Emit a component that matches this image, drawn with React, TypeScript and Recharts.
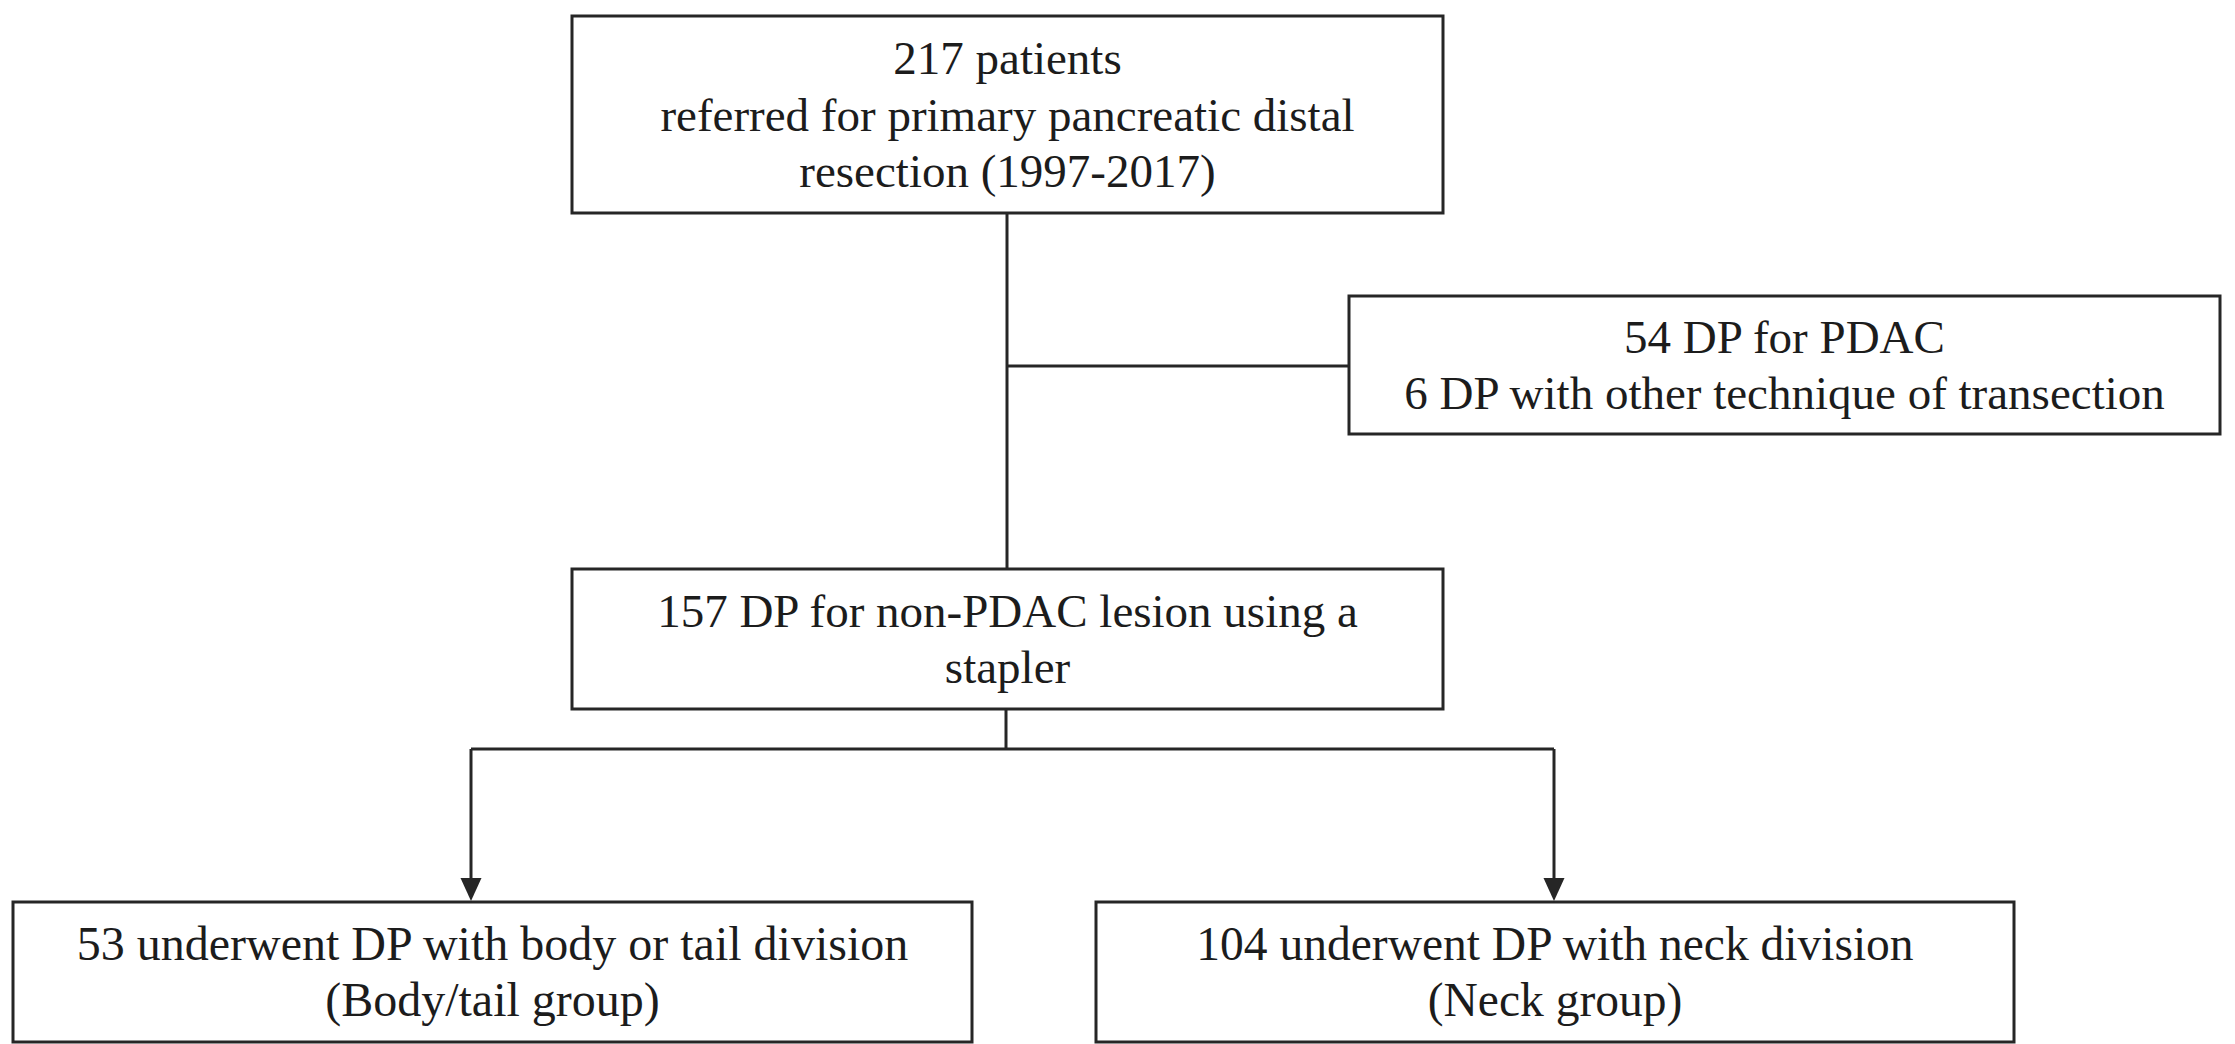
import React from 'react';
import { ComposedChart, XAxis, YAxis, ReferenceArea, ReferenceLine, Scatter } from 'recharts';

const W = 2235;
const H = 1044;

// Flowchart nodes (in diagram units = reference pixels)
const boxIds = ['referred', 'excluded', 'stapler', 'bodyTail', 'neck'];
const boxX1 = [572, 1349, 572, 13, 1096];
const boxX2 = [1443, 2220, 1443, 972, 2014];
const boxY1 = [16, 296, 569, 902, 902];
const boxY2 = [213, 434, 709, 1042, 1042];
const boxLines: string[][] = [
  ['217 patients', 'referred for primary pancreatic distal', 'resection (1997-2017)'],
  ['54 DP for PDAC', '6 DP with other technique of transection'],
  ['157 DP for non-PDAC lesion using a', 'stapler'],
  ['53 underwent DP with body or tail division', '(Body/tail group)'],
  ['104 underwent DP with neck division', '(Neck group)'],
];
const boxFont = [47, 47, 47, 48, 47.5];

// Connector segments
const segX1 = [1007, 1007, 1006, 471, 471, 1554];
const segY1 = [213, 366, 709, 749, 749, 749];
const segX2 = [1007, 1349, 1006, 1554, 471, 1554];
const segY2 = [569, 366, 749, 749, 882, 882];

// Arrow heads (tips)
const arrowX = [471, 1554];
const arrowY = [901, 901];
const arrows = arrowX.map((x, i) => ({ x, y: arrowY[i] }));

const INK = '#262626';
const FONT = '"Liberation Serif", "Times New Roman", serif';

const BoxLabel = (props: any) => {
  const { viewBox, lines, size } = props;
  if (!viewBox) return null;
  const { x, y, width, height } = viewBox;
  const cx = x + width / 2;
  const cy = y + height / 2;
  const lh = 56.5;
  const n = lines.length;
  return (
    <text
      x={cx}
      textAnchor="middle"
      fontFamily={FONT}
      fontSize={size}
      fill="#1c1c1c"
    >
      {lines.map((t: string, i: number) => (
        <tspan key={i} x={cx} y={cy + (i - (n - 1) / 2) * lh + 16}>
          {t}
        </tspan>
      ))}
    </text>
  );
};

const ArrowHead = (props: any) => {
  const { cx, cy } = props;
  if (cx == null || cy == null) return null;
  const hw = 10.5;
  const h = 23;
  return <polygon points={`${cx},${cy} ${cx - hw},${cy - h} ${cx + hw},${cy - h}`} fill={INK} />;
};

export default function App() {
  return (
    <div style={{ position: 'absolute', left: 0, top: 0, width: W, height: H, background: '#fff' }}>
      <ComposedChart width={W} height={H} margin={{ top: 0, right: 0, bottom: 0, left: 0 }} data={arrows}>
        <XAxis type="number" dataKey="x" domain={[0, W]} hide allowDataOverflow />
        <YAxis type="number" dataKey="y" domain={[0, H]} reversed hide allowDataOverflow />
        {segX1.map((x1, i) => (
          <ReferenceLine
            key={`seg-${i}`}
            segment={[
              { x: x1, y: segY1[i] },
              { x: segX2[i], y: segY2[i] },
            ]}
            stroke={INK}
            strokeWidth={3}
            ifOverflow="visible"
          />
        ))}
        {boxIds.map((id, i) => (
          <ReferenceArea
            key={id}
            x1={boxX1[i]}
            x2={boxX2[i]}
            y1={boxY1[i]}
            y2={boxY2[i]}
            fill="#ffffff"
            fillOpacity={1}
            stroke={INK}
            strokeWidth={3}
            ifOverflow="visible"
            label={<BoxLabel lines={boxLines[i]} size={boxFont[i]} />}
          />
        ))}
        <Scatter data={arrows} dataKey="y" shape={<ArrowHead />} isAnimationActive={false} />
      </ComposedChart>
    </div>
  );
}
